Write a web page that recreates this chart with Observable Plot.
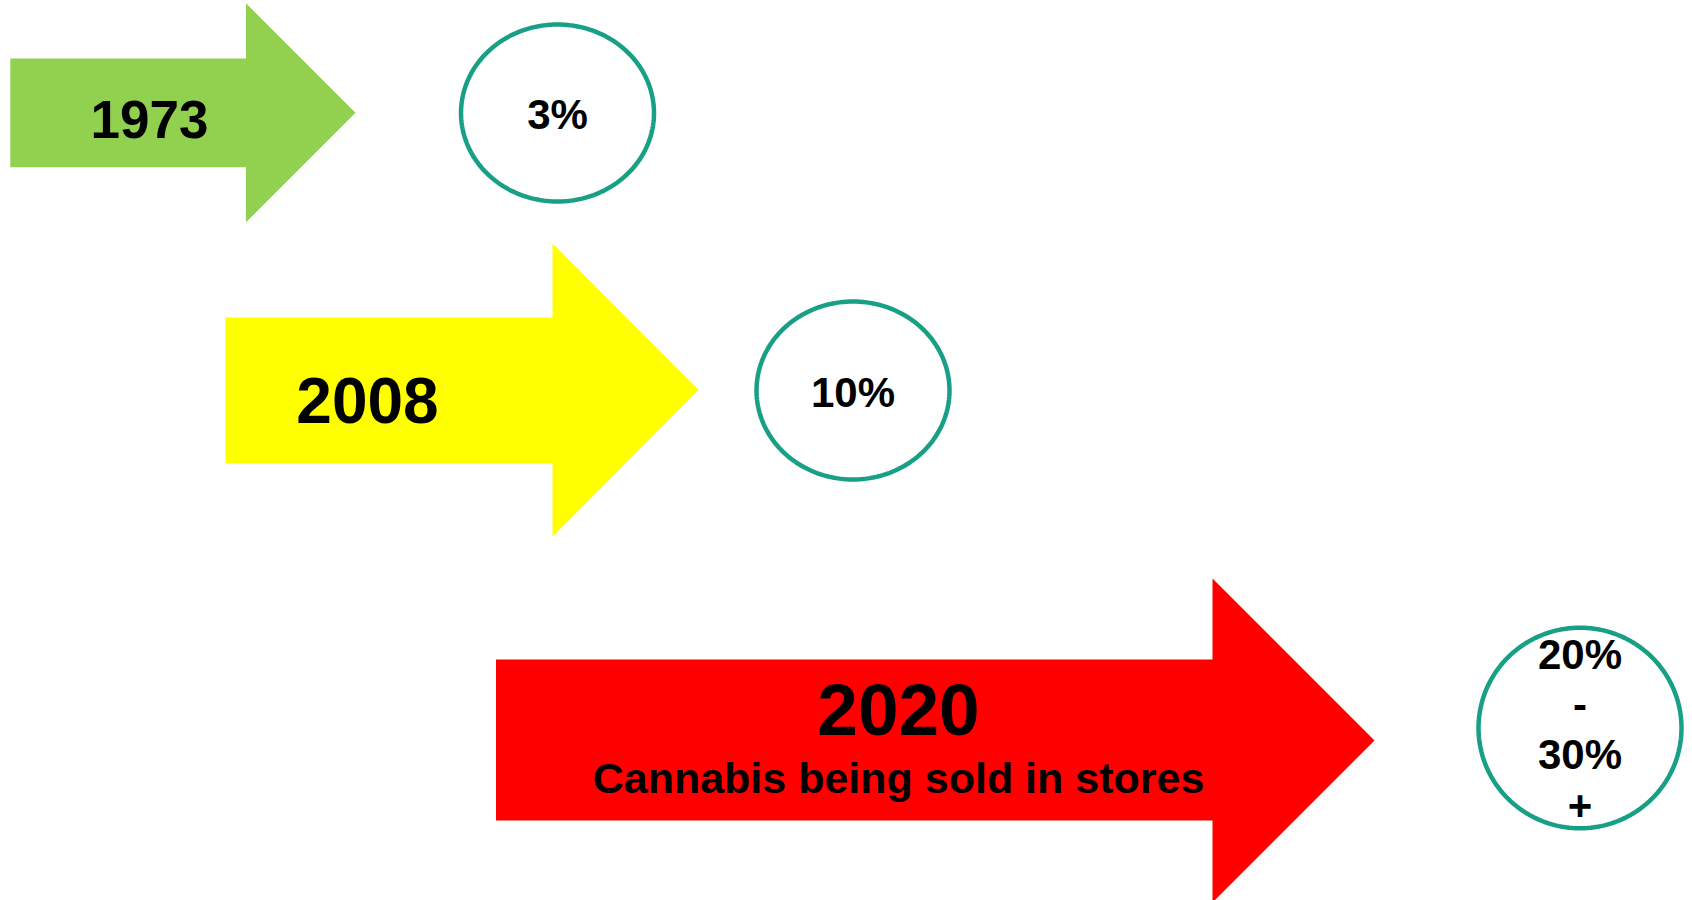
<!DOCTYPE html>
<html>
<head>
<meta charset="utf-8">
<script src="https://cdn.jsdelivr.net/npm/d3@7"></script>
<script src="https://cdn.jsdelivr.net/npm/@observablehq/plot@0.6"></script>
<style>
  html, body { margin: 0; padding: 0; background: #ffffff; }
  #chart svg { display: block; }
</style>
</head>
<body>
<div id="chart"></div>
<script>
// ---- Data ----
const years = ["1973", "2008", "2020"];
const shares = ["3%", "10%", "20%\n-\n30%\n+"];
const notes = ["", "", "Cannabis being sold in stores"];

// ---- Styles ----
const arrowColors = ["#92d050", "#ffff00", "#ff0000"];
const ringColor = "#18a086";
const font = "'Liberation Sans', Arial, Helvetica, sans-serif";

// ---- Layout (diagram geometry, in page units) ----
const arrowLayout = [
  {x0: 9.8,  x1: 245.5, bodyTop: 58,  bodyBottom: 166.7, headTop: 2.7, headBottom: 221.7, tip: 355},
  {x0: 225,  x1: 552,   bodyTop: 317, bodyBottom: 462.7, headTop: 243, headBottom: 536,   tip: 698},
  {x0: 495.5, x1: 1212, bodyTop: 659, bodyBottom: 820,   headTop: 578, headBottom: 902,   tip: 1374}
];
const ringLayout = [
  {cx: 557,    cy: 112.5, rx: 96.5,  ry: 88.5},
  {cx: 852.5,  cy: 390,   rx: 96.5,  ry: 89},
  {cx: 1579.5, cy: 727.5, rx: 101.5, ry: 100.3}
];
const yearLayout = [
  {x: 149, y: 137.3, size: 53},
  {x: 367, y: 422.3, size: 64},
  {x: 898, y: 734,   size: 73}
];
const noteLayout = [null, null, {x: 898, y: 792.3, size: 43}];

// ---- Build mark tables ----
const arrowPts = [];
arrowLayout.forEach((a, i) => {
  const mid = (a.headTop + a.headBottom) / 2;
  const pts = [
    [a.x0, a.bodyTop], [a.x1, a.bodyTop], [a.x1, a.headTop], [a.tip, mid],
    [a.x1, a.headBottom], [a.x1, a.bodyBottom], [a.x0, a.bodyBottom], [a.x0, a.bodyTop]
  ];
  pts.forEach(([x, y]) => arrowPts.push({id: years[i], x, y, fill: arrowColors[i]}));
});

const ringPts = [];
ringLayout.forEach((c, i) => {
  const n = 180;
  for (let k = 0; k <= n; ++k) {
    const t = (k / n) * 2 * Math.PI;
    ringPts.push({id: years[i], x: c.cx + c.rx * Math.cos(t), y: c.cy + c.ry * Math.sin(t)});
  }
});

const yearTexts = years.map((t, i) => ({text: t, ...yearLayout[i]}));
const noteTexts = notes.map((t, i) => (t ? {text: t, ...noteLayout[i]} : null)).filter(Boolean);
const shareTexts = shares.map((t, i) => ({text: t, x: ringLayout[i].cx, y: ringLayout[i].cy}));

const W = 1692, H = 900;

const chart = Plot.plot({
  width: W,
  height: H,
  margin: 0,
  x: {domain: [0, W], range: [0, W], axis: null},
  y: {domain: [0, H], range: [0, H], axis: null},
  color: {type: "identity"},
  style: {background: "#ffffff", fontFamily: font},
  marks: [
    Plot.line(arrowPts, {x: "x", y: "y", z: "id", fill: "fill", stroke: "none", curve: "linear"}),
    Plot.line(ringPts, {x: "x", y: "y", z: "id", stroke: ringColor, strokeWidth: 4.5, fill: "none"}),
    ...yearTexts.map(d => Plot.text([d], {
      x: "x", y: "y", text: "text", fontSize: d.size, fontWeight: "bold",
      fill: "#000000", textAnchor: "middle", lineAnchor: "bottom", fontFamily: font
    })),
    ...noteTexts.map(d => Plot.text([d], {
      x: "x", y: "y", text: "text", fontSize: d.size, fontWeight: "bold",
      fill: "#000000", textAnchor: "middle", lineAnchor: "bottom", fontFamily: font
    })),
    Plot.text(shareTexts, {
      x: "x", y: "y", text: "text", fontSize: 42, fontWeight: "bold", lineHeight: 1.2,
      fill: "#000000", textAnchor: "middle", lineAnchor: "middle", fontFamily: font
    })
  ]
});

document.getElementById("chart").appendChild(chart);
</script>
</body>
</html>
